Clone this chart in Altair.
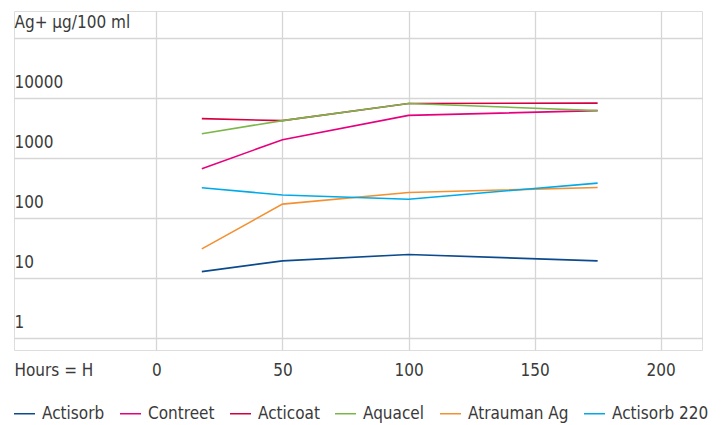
import altair as alt
import pandas as pd

hours = [18, 50, 100, 175]
series_names = ["Actisorb", "Contreet", "Acticoat", "Aquacel", "Atrauman Ag", "Actisorb 220"]
actisorb = [12.7, 19.2, 24.5, 19.2]
contreet = [656, 1995, 5070, 6070]
acticoat = [4470, 4140, 8000, 8100]
aquacel = [2510, 4140, 8000, 6070]
atrauman = [30.4, 169, 264, 320]
actisorb220 = [316, 239, 204, 378]
colors = ["#0b4a8c", "#e6007e", "#d5003f", "#7ab648", "#f39132", "#00aae8"]

x_ticks = [-56.5, 0, 50, 100, 150, 200]
y_ticks = [1, 10, 100, 1000, 10000, 100000]

values = [actisorb, contreet, acticoat, aquacel, atrauman, actisorb220]
rows = []
for name, vals in zip(series_names, values):
    for h, v in zip(hours, vals):
        rows.append({"series": name, "hours": h, "value": v})
df = pd.DataFrame(rows)

FONT = "DejaVu Sans Condensed, Roboto, sans-serif"
TXT = "#3a3a3a"
FS = 17

chart = alt.Chart(df).mark_line(strokeWidth=1.6).encode(
    x=alt.X(
        "hours:Q",
        scale=alt.Scale(domain=[-56.5, 216.4], nice=False, zero=False),
        axis=alt.Axis(
            title=None,
            values=x_ticks,
            format="d",
            labelExpr="datum.value < 0 ? 'Hours = H' : datum.label",
            labelAlign={"condition": {"test": "datum.value < 0", "value": "left"}, "value": "center"},
            gridOpacity={"condition": {"test": "datum.value < 0", "value": 0}, "value": 1},
            grid=True,
            gridColor="#d6d6d6",
            gridWidth=1.3,
            domain=False,
            ticks=False,
            tickSize=0,
            labelPadding=25,
            labelBaseline="alphabetic",
            labelFlush=False,
            labelOverlap=False,
            labelBound=False,
            labelFont=FONT,
            labelFontSize=FS,
            labelColor=TXT,
        ),
    ),
    y=alt.Y(
        "value:Q",
        scale=alt.Scale(type="log", domain=[0.631, 276500], nice=False),
        axis=alt.Axis(
            title=None,
            values=y_ticks,
            labelExpr="datum.value >= 50000 ? 'Ag+ µg/100 ml' : format(datum.value, 'd')",
            grid=True,
            gridColor="#d6d6d6",
            gridWidth=1.3,
            domain=False,
            ticks=False,
            tickSize=0,
            labelPadding=0,
            labelAlign="left",
            labelBaseline="alphabetic",
            labelOffset=-10,
            labelFlush=False,
            labelOverlap=False,
            labelBound=False,
            labelFont=FONT,
            labelFontSize=FS,
            labelColor=TXT,
        ),
    ),
    color=alt.Color(
        "series:N",
        scale=alt.Scale(domain=series_names, range=colors),
        sort=series_names,
        legend=alt.Legend(
            title=None,
            orient="none",
            legendX=-1,
            legendY=391,
            direction="horizontal",
            symbolType="stroke",
            symbolSize=441,
            symbolStrokeWidth=1.5,
            labelOffset=6,
            columnPadding=12,
            padding=0,
            labelFont=FONT,
            labelFontSize=FS,
            labelColor=TXT,
        ),
    ),
    order=alt.Order("hours:Q"),
).properties(
    width=688,
    height=339,
    padding={"left": 5, "top": 3, "right": 2, "bottom": 2},
).configure_view(
    stroke=None
).configure(
    background="white"
)

chart.save("out.html", embed_options={"renderer": "svg", "actions": False})
